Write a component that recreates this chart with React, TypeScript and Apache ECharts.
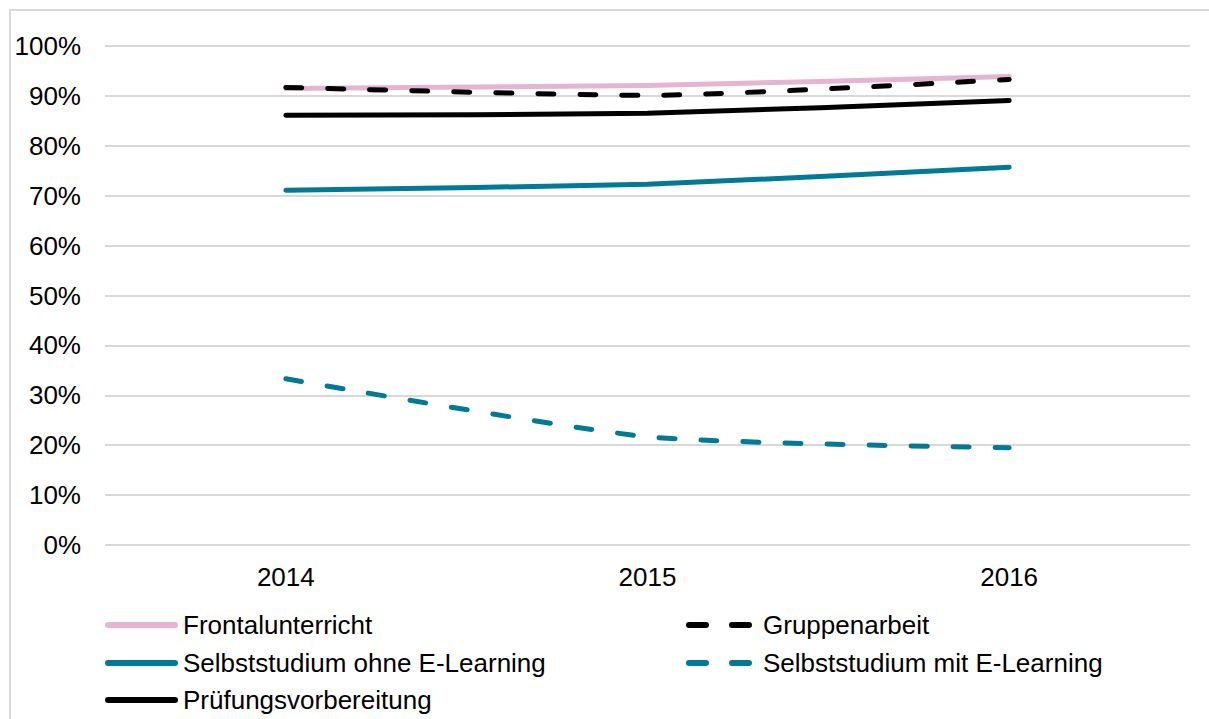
import React, { useEffect, useRef } from "react";
import * as echarts from "echarts";

const years = ["2014", "2015", "2016"];
const frontal = [91.5, 92.1, 93.9];
const gruppen = [91.7, 90.1, 93.3];
const selbstOhne = [71.1, 72.3, 75.7];
const selbstMit = [33.3, 21.7, 19.5];
const pruefung = [86.1, 86.5, 89.1];

const names = [
  "Frontalunterricht",
  "Gruppenarbeit",
  "Selbststudium ohne E-Learning",
  "Selbststudium mit E-Learning",
  "Prüfungsvorbereitung",
];

const PINK = "#E6B3D1";
const TEAL = "#007A96";
const BLACK = "#000000";
const FONT = "'Liberation Sans', Arial, sans-serif";

const solidIcon = "path://M3,0 H70 A3,3 0 0 1 70,6 H3 A3,3 0 0 1 3,0 Z";
const dashIcon =
  "path://M3,0 H20 A3,3 0 0 1 20,6 H3 A3,3 0 0 1 3,0 Z M46,0 H63 A3,3 0 0 1 63,6 H46 A3,3 0 0 1 46,0 Z";

export default function App() {
  const ref = useRef<HTMLDivElement>(null);

  useEffect(() => {
    document.body.style.margin = "0";
    if (!ref.current) return;
    const chart = echarts.init(ref.current, undefined, { renderer: "svg" });

    const textStyle = { fontFamily: FONT, fontSize: 26, color: "#000", lineHeight: 26 };
    const mkLegend = (name: string, icon: string, left: number, top: number, w: number, pad = 0) => ({
      data: [{ name, icon }],
      left,
      top,
      padding: 0,
      itemWidth: w,
      itemHeight: 6,
      selectedMode: false,
      textStyle: { ...textStyle, padding: [0, 0, 0, pad] },
    });

    const line = (name: string, data: number[], color: string, dashed: boolean) => ({
      name,
      type: "line",
      data,
      smooth: 0.2,
      symbol: "none",
      lineStyle: {
        color,
        width: 5,
        type: dashed ? [16, 26] : "solid",
        cap: "round",
        join: "round",
      },
      itemStyle: { color },
    });

    chart.setOption({
      animation: false,
      backgroundColor: "#fff",
      graphic: [
        {
          type: "rect",
          shape: { x: 10, y: 10, width: 1400, height: 900 },
          style: { fill: "none", stroke: "#d9d9d9", lineWidth: 2 },
          silent: true,
        },
      ],
      grid: { left: 105, right: 19, top: 46, bottom: 174, containLabel: false },
      xAxis: {
        type: "category",
        data: years,
        boundaryGap: true,
        axisLine: { show: false },
        axisTick: { show: false },
        axisLabel: { fontFamily: FONT, fontSize: 26, color: "#000", margin: 19 },
      },
      yAxis: {
        type: "value",
        min: 0,
        max: 100,
        interval: 10,
        axisLine: { show: false },
        axisTick: { show: false },
        axisLabel: {
          fontFamily: FONT,
          fontSize: 26,
          color: "#000",
          margin: 24,
          formatter: "{value}%",
        },
        splitLine: { lineStyle: { color: "#d9d9d9", width: 2 } },
      },
      legend: [
        mkLegend(names[0], solidIcon, 105, 612, 73),
        mkLegend(names[1], dashIcon, 686, 612, 66, 6),
        mkLegend(names[2], solidIcon, 105, 650, 73),
        mkLegend(names[3], dashIcon, 686, 650, 66, 6),
        mkLegend(names[4], solidIcon, 105, 687, 73),
      ],
      series: [
        line(names[0], frontal, PINK, false),
        line(names[2], selbstOhne, TEAL, false),
        line(names[3], selbstMit, TEAL, true),
        line(names[4], pruefung, BLACK, false),
        line(names[1], gruppen, BLACK, true),
      ],
    });

    return () => chart.dispose();
  }, []);

  return <div ref={ref} style={{ width: 1209, height: 719 }} />;
}
